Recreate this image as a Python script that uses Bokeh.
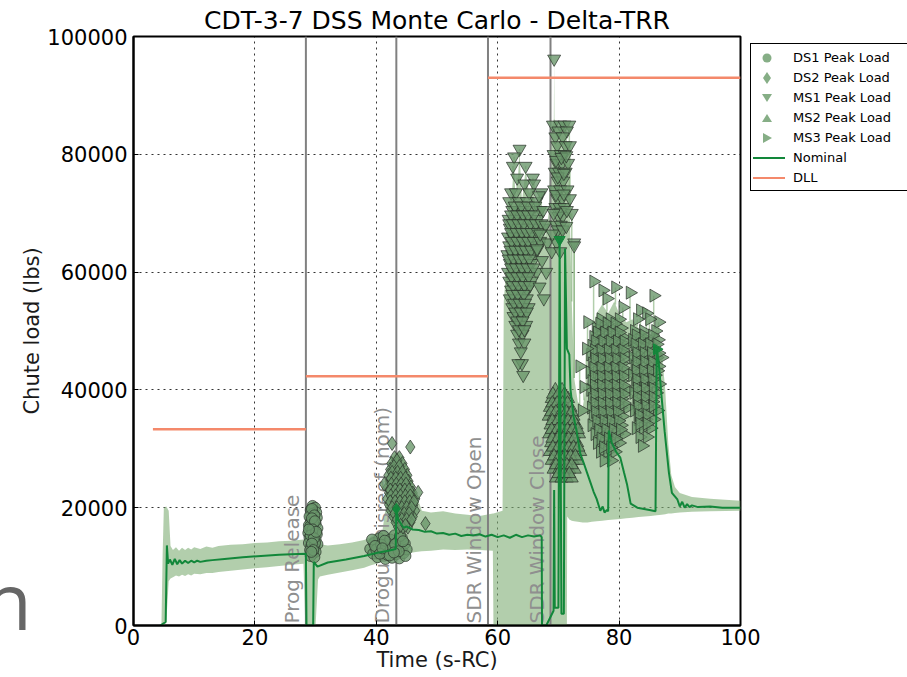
import numpy as np
from bokeh.plotting import figure
from bokeh.layouts import column
from bokeh.models import Range1d, Div, FixedTicker, NumeralTickFormatter
from bokeh.core.properties import value
from bokeh.embed import file_html
from bokeh.resources import INLINE

# ---------------------------------------------------------------- data
title_text = "CDT-3-7 DSS Monte Carlo - Delta-TRR"
x_label = "Time (s-RC)"
y_label = "Chute load (lbs)"
x_ticks = [0, 20, 40, 60, 80, 100]
y_ticks = [0, 20000, 40000, 60000, 80000, 100000]

# Monte Carlo envelope of chute load
band_t = [4.6, 4.8, 5.0, 5.4, 5.8, 6.1, 6.5, 7.0, 7.5, 8.0, 8.5, 9.0, 9.5, 10.0, 11.0, 12.0,
          13.0, 14.0, 16.0, 18.0, 20.0, 22.0, 24.0, 26.0, 28.0, 28.3, 29.0, 30.0, 30.4, 30.7,
          32.0, 34.0, 36.0, 38.0, 39.0, 40.0, 41.0, 41.8, 42.5, 43.5, 44.5, 45.5, 46.5, 47.5,
          49.0, 51.0, 53.0, 55.0, 57.0, 59.2, 59.3, 60.8, 61.0, 61.5, 62.0, 62.7, 63.0, 63.6,
          64.0, 64.6, 65.2, 65.8, 66.5, 67.2, 67.8, 68.4, 68.8, 69.25, 69.3, 69.35, 70.0, 70.5,
          71.0, 71.4, 71.45, 71.8, 72.2, 72.6, 73.2, 74.0, 74.8, 75.5, 76.3, 77.2, 78.2, 79.2,
          80.2, 81.2, 82.2, 83.2, 84.2, 85.2, 86.2, 87.0, 87.6, 88.1, 88.6, 89.2, 90.0, 92.0,
          95.0, 100.0]
band_lo = [0, 0, 0, 500, 7500, 8000, 8200, 8500, 8300, 8600, 8400, 8700, 8500, 8800, 8700, 8900,
           8900, 9100, 9300, 9500, 9700, 9900, 10100, 10300, 10500, 0, 0, 0, 7800, 8300,
           8600, 9000, 9400, 9800, 10200, 10500, 10800, 11000, 11200, 11500, 12000, 12300, 12500, 12600,
           12700, 12900, 12800, 12900, 12800, 12700, 0, 0, 0, 0, 0, 0, 0, 0,
           0, 0, 0, 0, 0, 0, 0, 0, 0, 0, 0, 0, 0, 0,
           0, 0, 18500, 18000, 17800, 17700, 17600, 17500, 17500, 17600, 17700, 17800, 17900, 18000,
           18100, 18200, 18300, 18400, 18500, 18600, 18700, 18800, 18900, 19000, 19000, 19100, 19200, 19300,
           19400, 19500]
band_hi = [0, 12000, 20000, 20200, 19500, 13500, 12800, 13300, 12700, 13200, 12800, 13200, 12900, 13300, 13000, 13400,
           13200, 13500, 13700, 13800, 14000, 14100, 14300, 14400, 14600, 14600, 20500, 20500, 20000, 13800,
           13600, 13800, 14100, 14500, 15000, 15800, 16000, 22000, 28500, 29500, 28500, 26000, 22500, 19500,
           19200, 19400, 19000, 18800, 18600, 19000, 19000, 19500, 55000, 62000, 68000, 79000, 70000, 80500,
           72000, 77500, 73000, 75500, 68000, 72500, 66000, 70000, 84000, 86000, 96200, 86000, 84500, 85500,
           85000, 84000, 80000, 74000, 55000, 42000, 38000, 37000, 42000, 50000, 53000, 54500, 53000, 55000,
           52500, 51500, 52000, 50500, 49500, 48500, 50500, 47000, 40000, 31000, 25500, 23500, 22500, 21800,
           21500, 21200]

# Nominal trajectory
nom_t = [4.4, 5.3, 5.5, 5.7, 6.0, 6.4, 6.8, 7.2, 7.6, 8.0, 8.5, 9.0, 9.5, 10.0, 10.5, 11.0, 12.0,
         13.0, 15.0, 18.0, 21.0, 24.0, 26.0, 28.4, 28.5, 29.6, 29.7, 30.3, 32.0, 35.0, 38.0, 40.0,
         42.0, 43.2, 43.3, 43.6, 44.5, 45.0, 46.0, 47.0, 48.0, 49.0, 50.0, 51.0, 52.0, 53.0, 54.0,
         55.0, 56.0, 57.0, 58.0, 59.0, 60.0, 61.0, 62.0, 63.0, 64.0, 65.0, 66.0, 67.0, 67.25, 67.3,
         68.0, 69.2, 69.3, 69.4, 70.0, 70.2, 70.5, 70.9, 71.1, 71.4, 71.8, 72.0, 72.5, 73.0, 73.6,
         74.2, 74.7, 75.2, 75.8, 76.3, 76.9, 77.3, 77.6, 78.0, 78.2, 78.3, 78.8, 79.5, 80.2, 80.8,
         81.3, 81.9, 83.0, 85.0, 86.0, 86.2, 86.5, 86.9, 87.5, 88.2, 88.7, 89.6, 90.0, 90.4, 90.8,
         91.2, 91.6, 92.0, 93.0, 95.0, 97.0, 100.0]
nom_load = [0, 600, 13600, 10500, 11200, 10300, 11300, 10400, 11100, 10500, 11000, 10600, 11000, 10700, 11000, 10800, 11000,
            11100, 11300, 11600, 11800, 12000, 12100, 12200, 0, 0, 10800, 10000, 10700, 11200, 11800, 12300,
            12700, 13000, 19800, 18000, 16600, 16800, 16300, 16200, 15900, 16000, 15600, 15700, 15400, 15600, 15200,
            15400, 15300, 15500, 15100, 15400, 15000, 15300, 14900, 15400, 15000, 15300, 15100, 15300, 15000, 0,
            0, 2500, 23000, 3000, 3000, 65500, 2000, 2000, 64000, 47000, 46000, 40000, 35500, 33000, 29200,
            27500, 26000, 24500, 22700, 21500, 19500, 20200, 19200, 19600, 19400, 33100, 31000, 29500, 28500, 26000,
            24000, 20700, 20000, 19600, 19400, 46900, 45000, 40000, 33000, 26000, 22500, 21400, 20200, 21000, 20000,
            20600, 20100, 20400, 20100, 20200, 20000, 20000]

# Design limit loads per phase
dll_start = [3.2, 28.4, 58.4]
dll_end = [28.4, 58.4, 100.0]
dll_load = [33300, 42300, 93000]

# Sequence events
event_t = [28.4, 43.3, 58.4, 68.7]
event_names = ["Prog Release", "Drogue Disreef (nom)", "SDR Window Open", "SDR Window Close"]

# Peak loads of the Monte Carlo cases (time, load)
ds1_points = [
    (29.5, 20300), (29.9, 20000), (29.2, 19600), (30.1, 19200), (29.6, 19000), (29.0, 18500),
    (30.2, 18300), (29.7, 18000), (29.3, 17600), (30.0, 17300), (28.9, 17000), (29.6, 16800),
    (30.3, 16500), (29.2, 16200), (29.8, 16000), (28.8, 15700), (30.2, 15500), (29.5, 15200),
    (29.0, 14900), (30.0, 14600), (29.6, 14300), (28.9, 14000), (30.3, 13800), (29.3, 13500),
    (29.8, 13200), (29.1, 12800), (30.0, 12500), (29.5, 12200), (29.2, 11800), (29.8, 11600),
    (29.6, 17300), (29.4, 15800), (29.9, 14000), (29.1, 16800),
    (29.4, 19800), (29.8, 18700), (29.4, 18200), (29.9, 17700), (29.5, 16300), (29.2, 15300),
    (29.7, 14800), (29.4, 13900), (29.6, 12800), (29.3, 12500), (30.1, 15900), (28.9, 16300),
    (39.0, 13000), (39.5, 12200), (39.6, 14000), (40.2, 11600), (40.3, 13300), (40.5, 14800),
    (41.0, 12400), (41.2, 15200), (41.5, 11300), (41.7, 13800), (42.0, 12800), (42.3, 14600),
    (42.6, 11500), (42.8, 13400), (43.0, 15300), (43.3, 12100), (43.5, 14200), (43.8, 11400),
    (44.0, 13000), (44.2, 14900), (44.5, 12300), (44.7, 13900), (45.0, 12900), (40.0, 12900),
    (41.8, 12000), (43.9, 15200), (39.3, 14600), (42.4, 13100), (44.8, 11800), (40.8, 13700),
    (39.8, 13500), (40.6, 12200), (41.4, 14400), (42.2, 11900), (43.1, 13800), (43.7, 12600),
    (44.4, 14300), (41.0, 13100), (42.9, 12400),
]
ds2_points = [
    (43.0, 28500), (43.8, 28500),
    (42.5, 27500), (43.4, 27500), (44.3, 27500),
    (42.3, 26500), (43.1, 26500), (43.9, 26500), (44.7, 26500),
    (42.0, 25500), (42.8, 25500), (43.6, 25500), (44.4, 25500), (45.1, 25500),
    (42.2, 24500), (43.0, 24500), (43.8, 24500), (44.6, 24500), (45.3, 24500),
    (41.9, 23500), (42.7, 23500), (43.5, 23500), (44.2, 23500), (45.0, 23500), (45.7, 23500),
    (42.1, 22500), (42.9, 22500), (43.7, 22500), (44.5, 22500), (45.3, 22500), (46.0, 22500),
    (41.8, 21500), (42.6, 21500), (43.4, 21500), (44.1, 21500), (44.9, 21500), (45.7, 21500), (46.4, 21500),
    (42.1, 20500), (42.9, 20500), (43.7, 20500), (44.5, 20500), (45.3, 20500), (46.1, 20500),
    (42.4, 19500), (43.2, 19500), (44.0, 19500), (44.8, 19500), (45.6, 19500), (46.4, 19500),
    (42.8, 18500), (43.6, 18500), (44.4, 18500), (45.2, 18500), (46.0, 18500),
    (43.2, 17500), (44.0, 17500), (44.8, 17500), (45.6, 17500),
    (43.6, 16700), (44.4, 16700), (45.2, 16700),
    (42.6, 30900), (45.6, 30300), (48.1, 17300), (46.9, 22600), (41.3, 24000),
    (43.4, 28000), (42.9, 27000), (43.8, 27000), (42.6, 26000), (43.5, 26000), (44.3, 26000),
    (42.4, 25000), (43.2, 25000), (44.0, 25000), (44.8, 25000),
    (42.5, 24000), (43.3, 24000), (44.1, 24000), (44.9, 24000),
    (42.3, 23000), (43.1, 23000), (43.9, 23000), (44.7, 23000), (45.4, 23000),
    (42.4, 22000), (43.2, 22000), (44.0, 22000), (44.8, 22000), (45.6, 22000),
    (42.3, 21000), (43.1, 21000), (43.9, 21000), (44.7, 21000), (45.5, 21000), (46.2, 21000),
    (42.6, 20000), (43.4, 20000), (44.2, 20000), (45.0, 20000), (45.8, 20000),
    (43.0, 19000), (43.8, 19000), (44.6, 19000), (45.4, 19000),
    (43.4, 18000), (44.2, 18000), (45.0, 18000), (45.8, 18000), (44.0, 17000), (44.8, 17000),
]
ms1_points = [
    (63.6, 80900), (62.7, 79600), (62.5, 78000), (64.6, 78000), (63.2, 76000), (65.8, 76000),
    (64.4, 75000), (66.0, 75000), (62.2, 73500), (63.0, 73500), (65.2, 73500), (67.2, 73500),
    (61.9, 72000), (63.5, 72000), (64.8, 72000), (66.4, 72000),
    (62.4, 70500), (63.2, 70500), (64.1, 70500), (65.6, 70500), (67.0, 70500),
    (61.8, 69000), (62.7, 69000), (63.7, 69000), (64.6, 69000), (65.3, 69000), (66.6, 69000),
    (62.0, 67500), (62.9, 67500), (63.9, 67500), (64.9, 67500), (65.9, 67500), (67.5, 67500),
    (61.7, 66000), (62.5, 66000), (63.4, 66000), (64.3, 66000), (65.1, 66000), (66.2, 66000),
    (61.9, 64500), (62.8, 64500), (63.7, 64500), (64.6, 64500), (65.5, 64500), (66.8, 64500),
    (61.6, 63000), (62.4, 63000), (63.2, 63000), (64.1, 63000), (65.0, 63000), (66.0, 63000),
    (62.0, 61500), (62.9, 61500), (63.8, 61500), (64.7, 61500), (65.6, 61500),
    (61.7, 60000), (62.6, 60000), (63.5, 60000), (64.4, 60000), (65.3, 60000), (66.4, 60000),
    (61.9, 58500), (62.8, 58500), (63.7, 58500), (64.6, 58500), (65.6, 58500),
    (62.2, 57000), (63.1, 57000), (64.0, 57000), (64.9, 57000),
    (62.0, 55500), (62.9, 55500), (63.8, 55500), (64.8, 55500),
    (62.4, 54000), (63.3, 54000), (64.2, 54000), (65.1, 54000),
    (62.6, 52500), (63.5, 52500), (64.4, 52500),
    (62.9, 51000), (63.8, 51000), (64.7, 51000),
    (63.2, 49500), (64.1, 49500), (63.5, 48000), (64.4, 48000), (63.8, 46500),
    (64.0, 44500), (63.4, 44500), (64.2, 42500),
    (62.8, 71250), (63.9, 71250), (65.0, 71250), (66.2, 71250),
    (62.2, 69750), (63.2, 69750), (64.2, 69750), (65.0, 69750), (66.0, 69750),
    (61.9, 68250), (62.5, 68250), (63.4, 68250), (64.3, 68250), (65.4, 68250), (66.3, 68250), (67.2, 68250),
    (62.2, 66750), (63.1, 66750), (64.0, 66750), (64.8, 66750), (65.6, 66750), (66.6, 66750),
    (62.3, 65250), (63.2, 65250), (64.1, 65250), (65.0, 65250), (65.9, 65250), (67.0, 65250),
    (62.1, 63750), (62.9, 63750), (63.8, 63750), (64.6, 63750), (65.5, 63750), (66.5, 63750),
    (61.8, 62250), (62.6, 62250), (63.5, 62250), (64.3, 62250), (65.2, 62250),
    (62.2, 60750), (63.0, 60750), (64.0, 60750), (64.9, 60750), (65.9, 60750),
    (62.3, 59250), (63.2, 59250), (64.1, 59250), (65.1, 59250),
    (62.5, 57750), (63.4, 57750), (64.4, 57750), (65.3, 57750),
    (62.4, 56250), (63.3, 56250), (64.3, 56250),
    (62.7, 54750), (63.6, 54750), (64.5, 54750),
    (62.9, 53250), (63.8, 53250), (64.8, 53250),
    (63.2, 51750), (64.1, 51750), (63.5, 50250), (64.4, 50250),
    (66.8, 73000), (67.5, 70500), (67.9, 68000), (66.5, 64000), (67.3, 62000), (68.0, 60000),
    (66.9, 57500), (67.6, 55500), (68.2, 65000), (67.0, 66500),
    (69.3, 96200),
    (69.1, 85000), (70.3, 85000), (71.0, 85000), (71.8, 85000), (70.0, 84000), (71.4, 84000),
    (69.5, 83000), (70.7, 83000), (69.8, 81500), (71.2, 81500), (71.9, 81500),
    (69.2, 80000), (70.4, 80000), (71.0, 80000), (69.7, 78500), (70.6, 78500), (71.6, 78500),
    (69.4, 77000), (70.1, 77000), (71.2, 77000), (69.9, 75500), (70.8, 75500),
    (69.3, 74000), (70.3, 74000), (71.5, 74000), (69.8, 72500), (70.6, 72500),
    (69.5, 71000), (70.2, 71000), (71.0, 71000), (70.0, 69500), (70.7, 69500),
    (69.6, 68000), (70.4, 68000), (70.1, 66500), (69.7, 65000), (72.6, 65000),
    (68.9, 63500), (70.3, 63500), (72.6, 64500), (72.2, 70000), (71.9, 72500),
    (69.6, 79000), (70.5, 79500), (71.3, 79800), (69.9, 76200), (70.9, 76800), (69.6, 73200),
    (70.9, 73300), (70.3, 70200), (69.9, 67200), (70.7, 67200), (71.4, 70500), (71.3, 67800),
    (69.2, 70000), (69.0, 66500),
]
ms2_points = [
    (69.5, 40000), (70.6, 40000),
    (68.9, 38500), (69.8, 38500), (70.8, 38500), (71.6, 38500),
    (68.6, 37000), (69.4, 37000), (70.3, 37000), (71.1, 37000), (72.0, 37000),
    (68.4, 35500), (69.2, 35500), (70.0, 35500), (70.9, 35500), (71.7, 35500), (72.5, 35500),
    (68.7, 34000), (69.6, 34000), (70.5, 34000), (71.3, 34000), (72.1, 34000), (73.0, 34000),
    (68.5, 32500), (69.3, 32500), (70.2, 32500), (71.0, 32500), (71.8, 32500), (72.6, 32500), (73.4, 32500),
    (68.8, 31000), (69.7, 31000), (70.6, 31000), (71.4, 31000), (72.3, 31000), (73.1, 31000),
    (68.6, 29500), (69.5, 29500), (70.3, 29500), (71.2, 29500), (72.0, 29500), (72.8, 29500), (73.6, 29500),
    (68.9, 28000), (69.8, 28000), (70.7, 28000), (71.5, 28000), (72.4, 28000), (73.2, 28000),
    (69.2, 26500), (70.1, 26500), (71.0, 26500), (71.8, 26500), (72.7, 26500),
    (69.6, 25000), (70.5, 25000), (71.4, 25000), (72.2, 25000),
    (69.1, 39250), (70.0, 39250), (71.0, 39250),
    (69.0, 37750), (69.8, 37750), (70.7, 37750), (71.5, 37750),
    (68.8, 36250), (69.6, 36250), (70.5, 36250), (71.3, 36250), (72.2, 36250),
    (69.0, 34750), (69.9, 34750), (70.8, 34750), (71.6, 34750), (72.5, 34750),
    (68.9, 33250), (69.8, 33250), (70.6, 33250), (71.5, 33250), (72.3, 33250), (73.2, 33250),
    (69.0, 31750), (69.9, 31750), (70.8, 31750), (71.7, 31750), (72.6, 31750),
    (69.1, 30250), (70.0, 30250), (70.9, 30250), (71.7, 30250), (72.5, 30250), (73.3, 30250),
    (69.3, 28750), (70.2, 28750), (71.1, 28750), (72.0, 28750), (72.8, 28750),
    (69.6, 27250), (70.5, 27250), (71.4, 27250), (72.2, 27250),
    (70.0, 25750), (70.9, 25750), (71.8, 25750),
]
ms3_points = [
    (75.8, 58400), (77.3, 56900), (79.4, 57400), (81.8, 56500), (85.7, 56000), (78.0, 55500),
    (83.5, 53500), (84.5, 53000), (86.5, 51500), (80.6, 54000),
    (77.0, 52000), (78.5, 52000), (80.0, 52000),
    (76.2, 50500), (77.5, 50500), (78.8, 50500), (80.3, 50500),
    (75.8, 49000), (77.0, 49000), (78.2, 49000), (79.4, 49000), (80.6, 49000),
    (75.5, 47500), (76.7, 47500), (77.9, 47500), (79.1, 47500), (80.3, 47500), (81.2, 47500),
    (75.3, 46000), (76.4, 46000), (77.6, 46000), (78.8, 46000), (80.0, 46000), (81.0, 46000),
    (75.6, 44500), (76.8, 44500), (78.0, 44500), (79.2, 44500), (80.4, 44500),
    (75.2, 43000), (76.4, 43000), (77.6, 43000), (78.8, 43000), (80.0, 43000), (81.2, 43000),
    (75.5, 41500), (76.7, 41500), (77.9, 41500), (79.1, 41500), (80.3, 41500),
    (75.3, 40000), (76.5, 40000), (77.7, 40000), (78.9, 40000), (80.1, 40000), (81.3, 40000),
    (75.6, 38500), (76.8, 38500), (78.0, 38500), (79.2, 38500), (80.4, 38500),
    (75.4, 37000), (76.6, 37000), (77.8, 37000), (79.0, 37000), (80.2, 37000), (81.4, 37000),
    (75.7, 35500), (76.9, 35500), (78.1, 35500), (79.3, 35500), (80.5, 35500),
    (75.5, 34000), (76.7, 34000), (77.9, 34000), (79.1, 34000), (80.3, 34000),
    (76.0, 32500), (77.2, 32500), (78.4, 32500), (79.6, 32500), (80.8, 32500),
    (76.4, 31000), (77.6, 31000), (78.8, 31000), (80.0, 31000),
    (76.9, 29500), (78.1, 29500), (79.3, 29500), (77.5, 28000), (78.7, 28000),
    (76.8, 51250), (78.0, 51250), (79.3, 51250),
    (76.4, 49750), (77.6, 49750), (78.8, 49750), (80.0, 49750),
    (76.1, 48250), (77.3, 48250), (78.5, 48250), (79.7, 48250), (80.8, 48250),
    (75.9, 46750), (77.0, 46750), (78.2, 46750), (79.4, 46750), (80.6, 46750),
    (76.0, 45250), (77.2, 45250), (78.4, 45250), (79.6, 45250), (80.8, 45250),
    (75.8, 43750), (77.0, 43750), (78.2, 43750), (79.4, 43750), (80.6, 43750),
    (75.9, 42250), (77.1, 42250), (78.3, 42250), (79.5, 42250), (80.7, 42250),
    (75.9, 40750), (77.1, 40750), (78.3, 40750), (79.5, 40750), (80.7, 40750),
    (76.0, 39250), (77.2, 39250), (78.4, 39250), (79.6, 39250), (80.8, 39250),
    (76.0, 37750), (77.2, 37750), (78.4, 37750), (79.6, 37750), (80.8, 37750),
    (76.1, 36250), (77.3, 36250), (78.5, 36250), (79.7, 36250),
    (76.3, 34750), (77.5, 34750), (78.7, 34750), (79.9, 34750),
    (76.6, 33250), (77.8, 33250), (79.0, 33250), (80.2, 33250),
    (77.0, 31750), (78.2, 31750), (79.4, 31750), (77.4, 30250), (78.6, 30250),
    (83.0, 52000), (85.0, 52000), (82.5, 50000), (84.0, 50000), (86.0, 50000),
    (82.2, 48500), (83.4, 48500), (84.7, 48500), (86.4, 48500),
    (82.8, 47000), (84.1, 47000), (85.4, 47000),
    (82.3, 45500), (83.5, 45500), (84.8, 45500), (86.2, 45500), (87.0, 45500),
    (82.6, 44000), (83.9, 44000), (85.2, 44000), (86.5, 44000),
    (82.2, 42500), (83.4, 42500), (84.6, 42500), (85.9, 42500),
    (82.7, 41000), (84.0, 41000), (85.3, 41000), (86.6, 41000),
    (82.4, 39500), (83.6, 39500), (84.9, 39500), (86.1, 39500),
    (82.9, 38000), (84.2, 38000), (85.5, 38000),
    (82.5, 36500), (83.8, 36500), (85.1, 36500), (86.3, 36500),
    (83.1, 35000), (84.4, 35000), (85.7, 35000),
    (82.8, 33500), (84.0, 33500), (85.2, 33500), (83.4, 32000), (84.6, 32000), (83.8, 30500),
    (82.8, 49250), (84.1, 49250), (85.5, 49250),
    (82.6, 47750), (83.8, 47750), (85.0, 47750), (86.2, 47750),
    (82.9, 46250), (84.1, 46250), (85.3, 46250), (86.5, 46250),
    (82.9, 44750), (84.2, 44750), (85.5, 44750),
    (82.8, 43250), (84.0, 43250), (85.3, 43250), (86.3, 43250),
    (82.9, 41750), (84.2, 41750), (85.5, 41750),
    (83.0, 40250), (84.3, 40250), (85.6, 40250),
    (83.0, 38750), (84.3, 38750), (85.6, 38750),
    (83.1, 37250), (84.4, 37250), (85.6, 37250),
    (83.3, 35750), (84.6, 35750), (83.4, 34250), (84.6, 34250),
    (73.5, 44000), (74.2, 40500), (74.6, 47000), (73.9, 36500), (74.8, 51500),
]

# Peaks of the nominal case
nom_peak_t = [43.3, 70.2, 86.2]
nom_peak_load = [19800, 65500, 46900]
nom_peak_marker = ["diamond", "inverted_triangle", "triangle"]
nom_peak_angle = [0.0, 0.0, -np.pi / 2]

# legend entries
series_labels = ["DS1 Peak Load", "DS2 Peak Load", "MS1 Peak Load", "MS2 Peak Load",
                 "MS3 Peak Load", "Nominal", "DLL"]

# ---------------------------------------------------------------- styling
BAND = "#7fae75"
NOMINAL = "#12873a"
DLL = "#f4896b"
EVENT = "#808080"
MARK_FILL = "#6a976b"
MARK_LINE = "#2a302a"
LEGEND_MARK = "#86ae86"
FONT = "DejaVu Sans"

p = figure(width=907, height=676, output_backend="svg", toolbar_location=None,
           x_range=Range1d(0, 100), y_range=Range1d(0, 100000),
           min_border_left=133, min_border_right=167, min_border_top=36, min_border_bottom=51)
p.title.text = title_text
p.title.text_font = FONT
p.title.text_font_size = "25px"
p.title.text_font_style = "normal"
p.title.text_color = "black"
p.title.align = "center"
p.title.standoff = 4
p.outline_line_color = "black"
p.outline_line_width = 2
p.background_fill_color = "white"
p.border_fill_color = "white"

for ax, ticks in ((p.xaxis, x_ticks), (p.yaxis, y_ticks)):
    ax.ticker = FixedTicker(ticks=ticks)
    ax.major_tick_in = 5
    ax.major_tick_out = 0
    ax.minor_tick_in = 0
    ax.minor_tick_out = 0
    ax.axis_line_width = 2
    ax.axis_line_color = "black"
    ax.major_label_text_font = FONT
    ax.major_label_text_font_size = "21px"
    ax.major_label_text_color = "black"
    ax.axis_label_text_font = FONT
    ax.axis_label_text_font_size = "21px"
    ax.axis_label_text_font_style = "normal"
    ax.axis_label_text_color = "#1a1a1a"
    ax.axis_label_standoff = 0
p.xaxis.axis_label = x_label
p.yaxis.axis_label = y_label
p.xaxis.major_label_standoff = 3
p.yaxis.major_label_standoff = 6
p.yaxis.formatter = NumeralTickFormatter(format="0")

for g in (p.xgrid, p.ygrid):
    g.grid_line_color = "black"
    g.grid_line_dash = "2 4"
    g.grid_line_alpha = 0.8
    g.grid_line_width = 1

# envelope
p.varea(x=band_t, y1=band_lo, y2=band_hi, fill_color=BAND, fill_alpha=0.6)

# event lines and names
p.segment(x0=event_t, y0=[0] * len(event_t), x1=event_t, y1=[y_ticks[-1]] * len(event_t),
          line_color=EVENT, line_width=2)
p.text(x=event_t, y=[0] * len(event_t), text=event_names, angle=np.pi / 2,
       text_align="left", text_baseline="bottom", x_offset=-2, y_offset=-2,
       text_font=value(FONT), text_font_size="20px", text_color="#8f8f8f")

# stems from the envelope up to isolated peaks
for pts in (ms1_points, ms3_points):
    t = np.array([a for a, _ in pts])
    ld = np.array([b for _, b in pts])
    base = np.interp(t, band_t, band_hi)
    keep = ld > base
    p.segment(x0=t[keep], y0=base[keep], x1=t[keep], y1=ld[keep],
              line_color=BAND, line_alpha=0.6, line_width=1.5)


def peaks(points, marker, size, angle=0.0):
    t = [a for a, _ in points]
    ld = [b for _, b in points]
    return p.scatter(t, ld, marker=marker, size=size, angle=angle,
                     fill_color=MARK_FILL, fill_alpha=0.8,
                     line_color=MARK_LINE, line_alpha=0.7, line_width=1)


peaks(ds1_points, "circle", 11)
peaks(ds2_points, "diamond", 14)
peaks(ms1_points, "inverted_triangle", 13)
peaks(ms2_points, "triangle", 13)
peaks(ms3_points, "triangle", 13, angle=-np.pi / 2)

p.line(nom_t, nom_load, line_color=NOMINAL, line_width=2)
p.scatter(x=nom_peak_t, y=nom_peak_load, marker=nom_peak_marker, angle=nom_peak_angle,
          size=11, fill_color=NOMINAL, line_color=NOMINAL, fill_alpha=0.9)

p.segment(x0=dll_start, y0=dll_load, x1=dll_end, y1=dll_load, line_color=DLL, line_width=2.5)

# ---------------------------------------------------------------- legend box (HTML overlay)
key_svg = [
    f'<circle cx="16" cy="10" r="4.5" fill="{LEGEND_MARK}"/>',
    f'<polygon points="16,4 20,10 16,16 12,10" fill="{LEGEND_MARK}"/>',
    f'<polygon points="11,6 21,6 16,14" fill="{LEGEND_MARK}"/>',
    f'<polygon points="11,14 21,14 16,6" fill="{LEGEND_MARK}"/>',
    f'<polygon points="12,5 12,15 21,10" fill="{LEGEND_MARK}"/>',
    f'<line x1="2" y1="10" x2="34" y2="10" stroke="{NOMINAL}" stroke-width="2"/>',
    f'<line x1="2" y1="10" x2="34" y2="10" stroke="{DLL}" stroke-width="2"/>',
]
rows = "".join(
    '<div style="height:20px; white-space:nowrap;">'
    f'<svg width="42" height="20" style="vertical-align:top;">{g}</svg>'
    f'<span style="line-height:20px;">{lab}</span></div>'
    for g, lab in zip(key_svg, series_labels)
)
legend_html = (
    '<div style="position:absolute; left:745px; top:-638px; width:160px; box-sizing:border-box;'
    ' padding:4px 0 2px 0; border:1.5px solid #000; background:#fff; color:#000;'
    f' font-family:\'{FONT}\'; font-size:13px;">{rows}</div>'
)
# fragment of large lettering at the lower left edge of the page
corner_html = ('<div style="position:absolute; left:-21px; top:-120px; font-family:\'Open Sans\';'
               ' font-size:78px; line-height:1; color:#666666;">n</div>')

overlay = Div(text=legend_html + corner_html, width=1, height=1,
              styles={"overflow": "visible", "z-index": "5"})

open("out.html", "w").write(file_html(column(p, overlay), INLINE))
